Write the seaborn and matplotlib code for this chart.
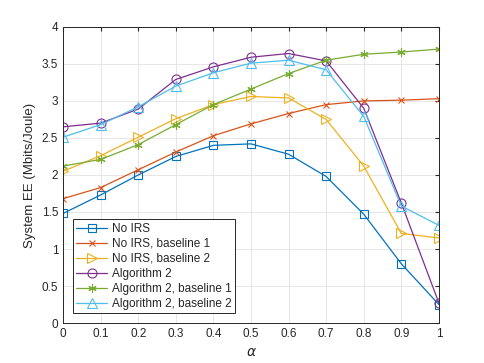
import matplotlib
matplotlib.use('Agg')
import matplotlib.pyplot as plt
import seaborn as sns
import numpy as np
import pandas as pd

alpha = [0, 0.1, 0.2, 0.3, 0.4, 0.5, 0.6, 0.7, 0.8, 0.9, 1.0]

no_irs = [1.48, 1.73, 2.00, 2.25, 2.40, 2.42, 2.28, 1.98, 1.47, 0.80, 0.25]
no_irs_b1 = [1.68, 1.83, 2.07, 2.31, 2.53, 2.69, 2.83, 2.95, 3.00, 3.01, 3.03]
no_irs_b2 = [2.05, 2.26, 2.51, 2.76, 2.95, 3.06, 3.04, 2.75, 2.12, 1.21, 1.15]
alg2 = [2.65, 2.70, 2.89, 3.29, 3.46, 3.59, 3.64, 3.54, 2.90, 1.62, 0.27]
alg2_b1 = [2.12, 2.21, 2.41, 2.68, 2.95, 3.16, 3.37, 3.55, 3.63, 3.66, 3.70]
alg2_b2 = [2.51, 2.68, 2.92, 3.20, 3.38, 3.51, 3.55, 3.42, 2.79, 1.58, 1.32]

series = [
    ("No IRS", no_irs, '#0072BD', 's', 5.5),
    ("No IRS, baseline 1", no_irs_b1, '#D95319', 'x', 5),
    ("No IRS, baseline 2", no_irs_b2, '#EDB120', '>', 7),
    ("Algorithm 2", alg2, '#7E2F8E', 'o', 6.5),
    ("Algorithm 2, baseline 1", alg2_b1, '#77AC30', (6, 2, 0), 6),
    ("Algorithm 2, baseline 2", alg2_b2, '#4DBEEE', '^', 7),
]

sns.set_style('white')
plt.rcParams['font.family'] = ['Liberation Sans', 'DejaVu Sans']

fig = plt.figure(figsize=(4.85, 3.63), dpi=100)
ax = fig.add_axes([0.13, 0.11, 0.775, 0.816])

for name, vals, color, marker, ms in series:
    df = pd.DataFrame({'alpha': alpha, 'ee': vals})
    sns.lineplot(data=df, x='alpha', y='ee', ax=ax, color=color, label=name,
                 marker=marker, markersize=ms,
                 markerfacecolor='none', markeredgecolor=color,
                 markeredgewidth=0.8, linewidth=0.9)

ax.set_xlim(0, 1)
ax.set_ylim(0, 4)
ax.set_xticks(np.arange(0, 1.01, 0.1))
ax.set_xticklabels(['0', '0.1', '0.2', '0.3', '0.4', '0.5', '0.6', '0.7', '0.8', '0.9', '1'])
ax.set_yticks(np.arange(0, 4.01, 0.5))
ax.set_yticklabels(['0', '0.5', '1', '1.5', '2', '2.5', '3', '3.5', '4'])
ax.grid(True, color='#e6e6e6', linewidth=0.7)
ax.tick_params(axis='both', labelsize=8.5, colors='#262626', direction='in',
               length=3, top=True, right=True)
for s in ax.spines.values():
    s.set_color('#262626')
    s.set_linewidth(0.7)
ax.set_xlabel(r'$\alpha$', fontsize=10, color='#262626')
ax.set_ylabel('System EE (Mbits/Joule)', fontsize=9.5, color='#262626')

leg = ax.legend(loc='lower left', bbox_to_anchor=(0.02, 0.025), fontsize=8.5,
                fancybox=False, framealpha=1, edgecolor='#262626',
                handlelength=2.6, borderpad=0.3, labelspacing=0.25,
                handletextpad=0.4, borderaxespad=0.2)
leg.get_frame().set_linewidth(0.7)

fig.savefig('out.png', dpi=100)
